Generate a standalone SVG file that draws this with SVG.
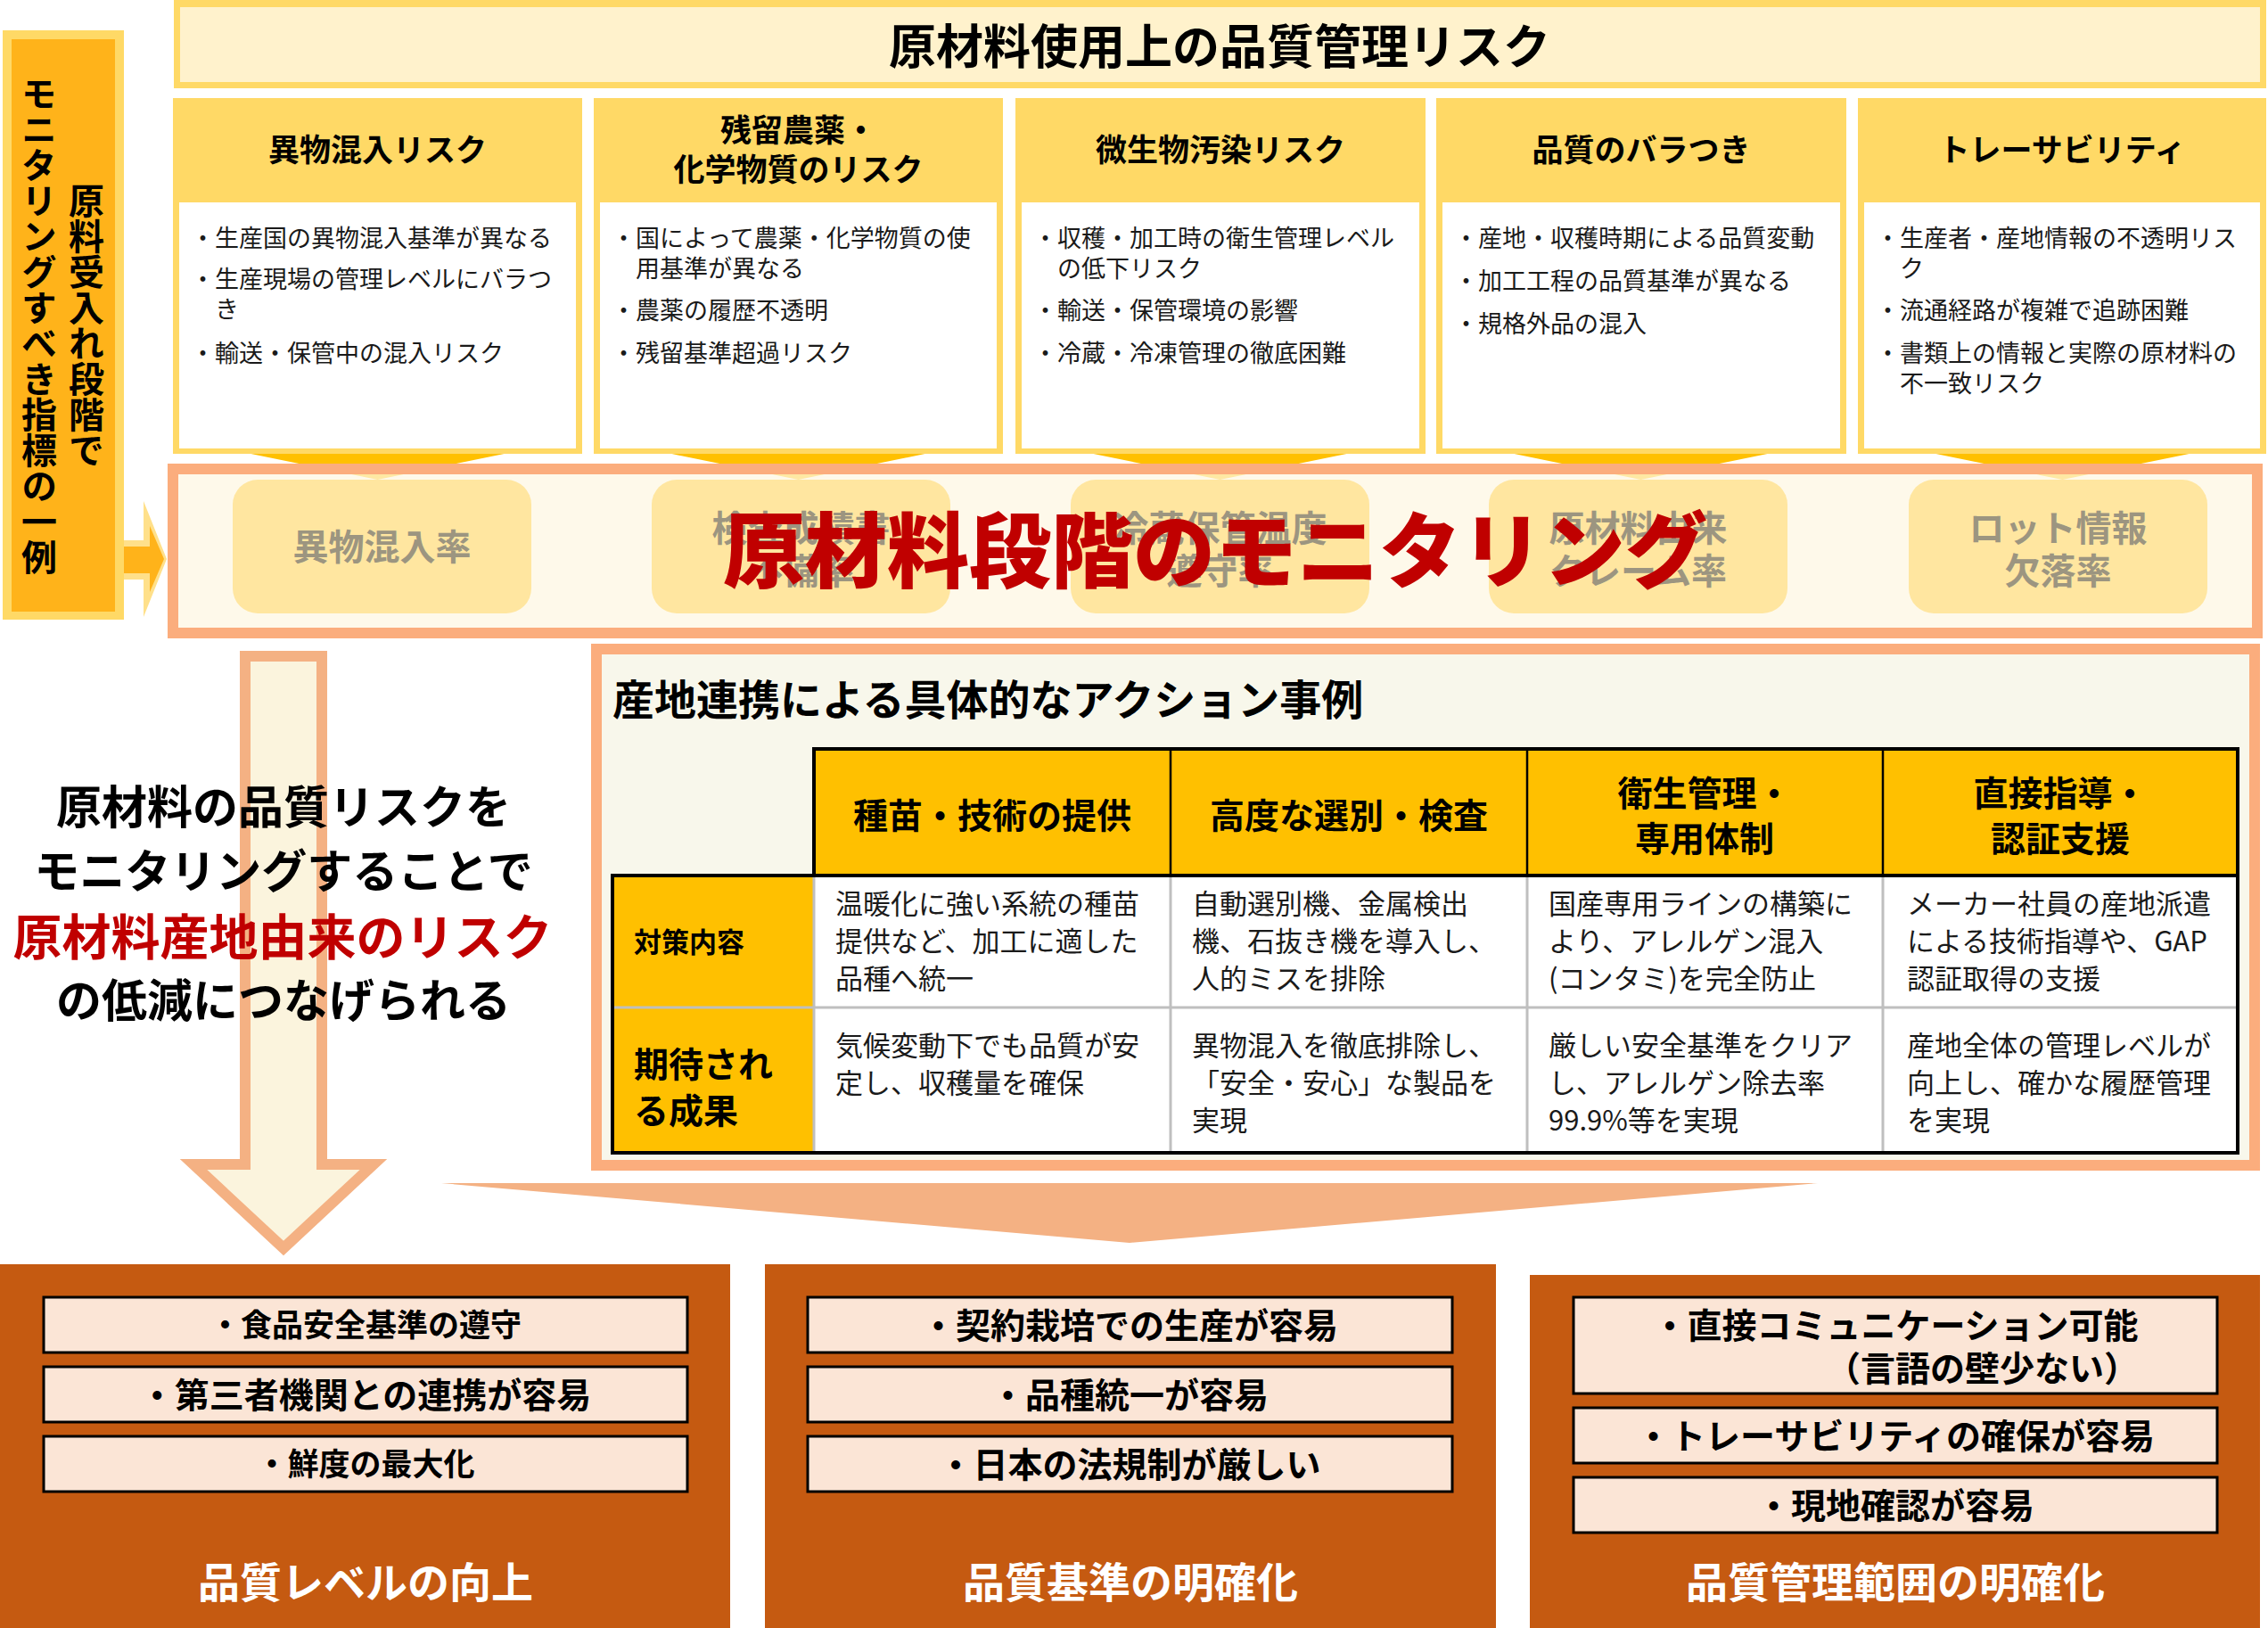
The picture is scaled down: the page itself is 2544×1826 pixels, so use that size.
<svg xmlns="http://www.w3.org/2000/svg" width="2544" height="1826" viewBox="0 0 2544 1826">
<style>
text { font-family: "Noto Sans CJK JP", "Noto Sans", sans-serif; }
.hdr { font-size: 35px; font-weight: 700; text-anchor: middle; fill: #000; }
.bul { font-size: 27px; fill: #1a1a1a; }
.col { fill: #FFD966; }
.colin { fill: #FFFFFF; }
.chev { fill: #FFC000; }
.pill { fill: #FFE6A0; }
.pt { font-size: 40px; font-weight: 700; fill: #9C9580; text-anchor: middle; }
.th { font-size: 39px; font-weight: 700; text-anchor: middle; fill: #000; }
.td { font-size: 31px; fill: #1a1a1a; }
.item { fill: #FBE5D6; stroke: #000; stroke-width: 3; }
.it { font-weight: 700; text-anchor: middle; fill: #000; }
.lbl { font-size: 47px; font-weight: 700; fill: #FFFFFF; text-anchor: middle; }
.big { fill: #C55A11; }
.grid { stroke: #BFBFBF; stroke-width: 3; }
.blk { stroke: #000; fill: none; }
</style>
<rect width="2544" height="1826" fill="#FFFFFF"/>

<!-- Left vertical label -->
<g id="side-label">
  <rect x="3" y="34" width="136" height="661" fill="#FFD966"/>
  <rect x="13" y="44" width="116" height="642" fill="#FFB31A"/>
  <text x="97" y="365" font-size="40" font-weight="700" text-anchor="middle" style="writing-mode: vertical-rl">原料受入れ段階で</text>
  <text x="44" y="365" font-size="40" font-weight="700" text-anchor="middle" style="writing-mode: vertical-rl">モニタリングすべき指標の一例</text>
</g>

<!-- Header -->
<g id="header">
  <rect x="195" y="0" width="2347" height="99" fill="#FFD966"/>
  <rect x="202" y="8" width="2333" height="84" fill="#FFF2CC"/>
  <text x="1368" y="72" font-size="53" font-weight="700" text-anchor="middle">原材料使用上の品質管理リスク</text>
</g>

<!-- Connectors -->
<g id="connectors">
  <polygon class="chev" points="281.5,509 565.5,509 423.5,538"/>
  <polygon class="chev" points="753.5,509 1037.5,509 895.5,538"/>
  <polygon class="chev" points="1226.5,509 1510.5,509 1368.5,538"/>
  <polygon class="chev" points="1698.5,509 1982.5,509 1840.5,538"/>
  <polygon class="chev" points="2171.5,509 2455.5,509 2313.5,538"/>
  <polygon points="139,606 161,606 161,562 187,627 161,692 161,650 139,650" fill="#FFE08A"/>
  <polygon points="139,613 168,613 168,590 184,627 168,664 168,643 139,643" fill="#FFB31A"/>
  <polygon points="275,736 361,736 361,1306 419,1306 318,1400 217,1306 275,1306" fill="#FBF4DD" stroke="#F4B183" stroke-width="12"/>
  <polygon points="495,1327 2039,1327 1267,1394" fill="#F4B183"/>
</g>

<!-- Risk columns -->
<g id="risk-1">
  <rect class="col" x="194" y="110" width="459" height="399"/>
  <rect class="colin" x="201" y="227" width="445" height="276"/>
  <text class="hdr" x="423.5" y="181">異物混入リスク</text>
  <text class="bul" x="214" y="277">・生産国の異物混入基準が異なる</text>
  <text class="bul" x="214" y="323">・生産現場の管理レベルにバラつ</text>
  <text class="bul" x="241" y="357">き</text>
  <text class="bul" x="214" y="406">・輸送・保管中の混入リスク</text>
</g>
<g id="risk-2">
  <rect class="col" x="666" y="110" width="459" height="399"/>
  <rect class="colin" x="673" y="227" width="445" height="276"/>
  <text class="hdr" x="895.5" y="159">残留農薬・</text>
  <text class="hdr" x="895.5" y="203">化学物質のリスク</text>
  <text class="bul" x="686" y="277">・国によって農薬・化学物質の使</text>
  <text class="bul" x="713" y="311">用基準が異なる</text>
  <text class="bul" x="686" y="358">・農薬の履歴不透明</text>
  <text class="bul" x="686" y="406">・残留基準超過リスク</text>
</g>
<g id="risk-3">
  <rect class="col" x="1139" y="110" width="460" height="399"/>
  <rect class="colin" x="1146" y="227" width="446" height="276"/>
  <text class="hdr" x="1369" y="181">微生物汚染リスク</text>
  <text class="bul" x="1159" y="277">・収穫・加工時の衛生管理レベル</text>
  <text class="bul" x="1186" y="311">の低下リスク</text>
  <text class="bul" x="1159" y="358">・輸送・保管環境の影響</text>
  <text class="bul" x="1159" y="406">・冷蔵・冷凍管理の徹底困難</text>
</g>
<g id="risk-4">
  <rect class="col" x="1611" y="110" width="460" height="399"/>
  <rect class="colin" x="1618" y="227" width="446" height="276"/>
  <text class="hdr" x="1841" y="181">品質のバラつき</text>
  <text class="bul" x="1631" y="277">・産地・収穫時期による品質変動</text>
  <text class="bul" x="1631" y="325">・加工工程の品質基準が異なる</text>
  <text class="bul" x="1631" y="373">・規格外品の混入</text>
</g>
<g id="risk-5">
  <rect class="col" x="2084" y="110" width="458" height="399"/>
  <rect class="colin" x="2091" y="227" width="444" height="276"/>
  <text class="hdr" x="2313" y="181">トレーサビリティ</text>
  <text class="bul" x="2104" y="277">・生産者・産地情報の不透明リス</text>
  <text class="bul" x="2131" y="311">ク</text>
  <text class="bul" x="2104" y="358">・流通経路が複雑で追跡困難</text>
  <text class="bul" x="2104" y="406">・書類上の情報と実際の原材料の</text>
  <text class="bul" x="2131" y="440">不一致リスク</text>
</g>

<!-- Monitoring band -->
<g id="monitoring">
  <rect x="194" y="526" width="2338" height="184" fill="#FEF7E2" fill-opacity="0.72" stroke="#FBAD7D" stroke-width="12"/>
  <rect class="pill" x="261" y="538" width="335" height="150" rx="28"/>
  <rect class="pill" x="731" y="538" width="335" height="150" rx="28"/>
  <rect class="pill" x="1201" y="538" width="335" height="150" rx="28"/>
  <rect class="pill" x="1670" y="538" width="335" height="150" rx="28"/>
  <rect class="pill" x="2141" y="538" width="335" height="150" rx="28"/>
  <text class="pt" x="428.5" y="628">異物混入率</text>
  <text class="pt" x="898.5" y="607">検査成績書</text>
  <text class="pt" x="898.5" y="655">不備率</text>
  <text class="pt" x="1368.5" y="607">冷蔵保管温度</text>
  <text class="pt" x="1368.5" y="655">遵守率</text>
  <text class="pt" x="1837.5" y="607">原材料由来</text>
  <text class="pt" x="1837.5" y="655">クレーム率</text>
  <text class="pt" x="2308.5" y="607">ロット情報</text>
  <text class="pt" x="2308.5" y="655">欠落率</text>
  <text x="1363" y="652" font-size="92" font-weight="900" fill="#C00000" text-anchor="middle">原材料段階のモニタリング</text>
</g>

<!-- Left message -->
<g id="message">
  <text x="318" y="924" font-size="51" font-weight="700" text-anchor="middle">原材料の品質リスクを</text>
  <text x="318" y="996" font-size="51" font-weight="700" text-anchor="middle">モニタリングすることで</text>
  <text x="317" y="1071" font-size="55" font-weight="700" fill="#C00000" text-anchor="middle">原材料産地由来のリスク</text>
  <text x="318" y="1141" font-size="51" font-weight="700" text-anchor="middle">の低減につなげられる</text>
</g>

<!-- Action examples -->
<g id="actions">
  <rect x="669" y="728" width="1860" height="579" fill="#F8F7EB" stroke="#FBAD7D" stroke-width="12"/>
  <text x="687" y="802" font-size="47" font-weight="700">産地連携による具体的なアクション事例</text>
  <rect x="913" y="840" width="1597" height="142" fill="#FFC000"/>
  <rect x="687" y="982" width="226" height="311" fill="#FFC000"/>
  <rect x="913" y="982" width="1597" height="311" fill="#FFFFFF"/>
  <line class="grid" x1="687" y1="1130" x2="2510" y2="1130"/>
  <line class="grid" x1="913" y1="982" x2="913" y2="1293"/>
  <line class="grid" x1="1313" y1="982" x2="1313" y2="1293"/>
  <line class="grid" x1="1713" y1="982" x2="1713" y2="1293"/>
  <line class="grid" x1="2112" y1="982" x2="2112" y2="1293"/>
  <line class="blk" stroke-width="2.5" x1="1313" y1="840" x2="1313" y2="982"/>
  <line class="blk" stroke-width="2.5" x1="1713" y1="840" x2="1713" y2="982"/>
  <line class="blk" stroke-width="2.5" x1="2112" y1="840" x2="2112" y2="982"/>
  <line class="blk" stroke-width="4" x1="687" y1="982" x2="2510" y2="982"/>
  <path class="blk" stroke-width="4" d="M913,840 H2510 V1293 H687 V982 H913 Z"/>
  <text class="th" x="1113" y="929">種苗・技術の提供</text>
  <text class="th" x="1513" y="929">高度な選別・検査</text>
  <text class="th" x="1912" y="904">衛生管理・</text>
  <text class="th" x="1912" y="955">専用体制</text>
  <text class="th" x="2311" y="904">直接指導・</text>
  <text class="th" x="2311" y="955">認証支援</text>
  <text x="711" y="1068" font-size="31" font-weight="700">対策内容</text>
  <text x="711" y="1208" font-size="39" font-weight="700">期待され</text>
  <text x="711" y="1260" font-size="39" font-weight="700">る成果</text>
  <text class="td" x="937" y="1025">温暖化に強い系統の種苗</text>
  <text class="td" x="937" y="1067">提供など、加工に適した</text>
  <text class="td" x="937" y="1109">品種へ統一</text>
  <text class="td" x="1337" y="1025">自動選別機、金属検出</text>
  <text class="td" x="1337" y="1067">機、石抜き機を導入し、</text>
  <text class="td" x="1337" y="1109">人的ミスを排除</text>
  <text class="td" x="1737" y="1025">国産専用ラインの構築に</text>
  <text class="td" x="1737" y="1067">より、アレルゲン混入</text>
  <text class="td" x="1737" y="1109">(コンタミ)を完全防止</text>
  <text class="td" x="2139" y="1025">メーカー社員の産地派遣</text>
  <text class="td" x="2139" y="1067">による技術指導や、GAP</text>
  <text class="td" x="2139" y="1109">認証取得の支援</text>
  <text class="td" x="937" y="1184">気候変動下でも品質が安</text>
  <text class="td" x="937" y="1226">定し、収穫量を確保</text>
  <text class="td" x="1337" y="1184">異物混入を徹底排除し、</text>
  <text class="td" x="1337" y="1226">「安全・安心」な製品を</text>
  <text class="td" x="1337" y="1268">実現</text>
  <text class="td" x="1737" y="1184">厳しい安全基準をクリア</text>
  <text class="td" x="1737" y="1226">し、アレルゲン除去率</text>
  <text class="td" x="1737" y="1268">99.9%等を実現</text>
  <text class="td" x="2139" y="1184">産地全体の管理レベルが</text>
  <text class="td" x="2139" y="1226">向上し、確かな履歴管理</text>
  <text class="td" x="2139" y="1268">を実現</text>
</g>

<!-- Outcomes -->
<g id="outcome-1">
  <rect class="big" x="0" y="1418" width="819" height="408"/>
  <rect class="item" x="49" y="1455" width="722" height="62"/>
  <rect class="item" x="49" y="1533" width="722" height="62"/>
  <rect class="item" x="49" y="1611" width="722" height="62"/>
  <text class="it" x="410" y="1499" font-size="35">・食品安全基準の遵守</text>
  <text class="it" x="410" y="1579" font-size="39">・第三者機関との連携が容易</text>
  <text class="it" x="410" y="1655" font-size="35">・鮮度の最大化</text>
  <text class="lbl" x="410" y="1792">品質レベルの向上</text>
</g>
<g id="outcome-2">
  <rect class="big" x="858" y="1418" width="820" height="408"/>
  <rect class="item" x="906" y="1455" width="723" height="62"/>
  <rect class="item" x="906" y="1533" width="723" height="62"/>
  <rect class="item" x="906" y="1611" width="723" height="62"/>
  <text class="it" x="1267" y="1501" font-size="39">・契約栽培での生産が容易</text>
  <text class="it" x="1267" y="1579" font-size="39">・品種統一が容易</text>
  <text class="it" x="1267" y="1657" font-size="39">・日本の法規制が厳しい</text>
  <text class="lbl" x="1268" y="1792" font-size="48">品質基準の明確化</text>
</g>
<g id="outcome-3">
  <rect class="big" x="1716" y="1430" width="819" height="396"/>
  <rect class="item" x="1765" y="1455" width="722" height="108"/>
  <rect class="item" x="1765" y="1579" width="722" height="62"/>
  <rect class="item" x="1765" y="1657" width="722" height="62"/>
  <text class="it" x="2126" y="1501" font-size="39">・直接コミュニケーション可能</text>
  <text x="2048" y="1549" font-size="39" font-weight="700">（言語の壁少ない）</text>
  <text class="it" x="2126" y="1625" font-size="39">・トレーサビリティの確保が容易</text>
  <text class="it" x="2126" y="1703" font-size="39">・現地確認が容易</text>
  <text class="lbl" x="2126" y="1792" font-size="48">品質管理範囲の明確化</text>
</g>
</svg>
